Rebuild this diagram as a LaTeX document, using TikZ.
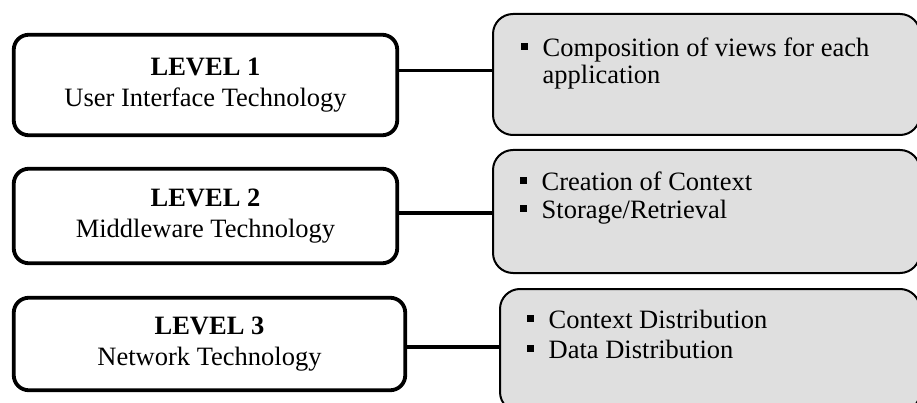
\documentclass[tikz,border=0pt]{standalone}
\usepackage{fontspec}
\setmainfont{Liberation Serif}
\usetikzlibrary{positioning}
\tikzset{
  x=1pt, y=1pt,
  level/.style={draw, line width=3.8pt, rounded corners=15pt, align=center,
    minimum width=383.5pt, font=\fontsize{26.5}{31}\selectfont},
  taskbox/.style={draw, line width=2pt, rounded corners=20pt, fill=gray!25},
  tasktext/.style={inner sep=0pt, align=left, font=\fontsize{26.5}{28}\selectfont},
  link/.style={line width=3.6pt}
}
\newcommand{\taskitem}[1]{\rule[6.5pt]{7pt}{7pt}\hspace{15pt}#1}

\begin{document}
\begin{tikzpicture}
    \useasboundingbox (0,0) rectangle (917,-403);
    \node[level, minimum height=100.5pt] (lvl1) at (205.5,-85) {\textbf{LEVEL 1}\\User Interface Technology};
    \node[level, minimum height=94.5pt] (lvl2) at (205.5,-216) {\textbf{LEVEL 2}\\Middleware Technology};
    \node[level, minimum height=92.5pt, minimum width=391.5pt] (lvl3) at (209.5,-344) {\textbf{LEVEL 3}\\Network Technology};
    \node[taskbox, minimum width=427pt, minimum height=121pt] (t1) at (706.5,-74.5) {};
    \node[taskbox, minimum width=427pt, minimum height=123pt] (t2) at (706.5,-211.5) {};
    \node[taskbox, minimum width=420pt, minimum height=123pt] (t3) at (710,-350.5) {};
    \node[tasktext, below right=25pt and 28.5pt of t1.north west] (t1txt) {\taskitem{Composition of views for each}\\[-1pt]\hspace{22pt}application};
    \node[tasktext, below right=23pt and 27.5pt of t2.north west] (t2txt) {\taskitem{Creation of Context}\\\taskitem{Storage/Retrieval}};
    \node[tasktext, below right=22pt and 27.5pt of t3.north west] (t3txt) {\taskitem{Context Distribution}\\[2pt]\taskitem{Data Distribution}};
    \draw[link] ([yshift=14.3pt]lvl1.east) -- ([yshift=14.3pt]lvl1.east -| t1.west);
    \draw[link] ([yshift=2.7pt]lvl2.east) -- ([yshift=2.7pt]lvl2.east -| t2.west);
    \draw[link] ([yshift=-2.7pt]lvl3.east) -- ([yshift=-2.7pt]lvl3.east -| t3.west);
\end{tikzpicture}
\end{document}
